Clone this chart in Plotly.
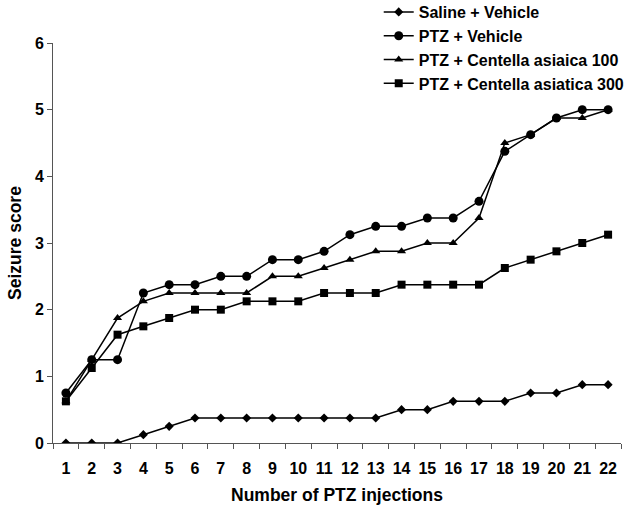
import plotly.graph_objects as go

injections = list(range(1, 23))
tick_labels = [str(i) for i in injections]

saline_vehicle = [0, 0, 0, 0.125, 0.25, 0.375, 0.375, 0.375, 0.375, 0.375, 0.375,
                  0.375, 0.375, 0.5, 0.5, 0.625, 0.625, 0.625, 0.75, 0.75, 0.875, 0.875]
ptz_vehicle = [0.75, 1.25, 1.25, 2.25, 2.375, 2.375, 2.5, 2.5, 2.75, 2.75, 2.875,
               3.125, 3.25, 3.25, 3.375, 3.375, 3.625, 4.375, 4.625, 4.875, 5, 5]
ptz_ca100 = [0.625, 1.25, 1.875, 2.125, 2.25, 2.25, 2.25, 2.25, 2.5, 2.5, 2.625,
             2.75, 2.875, 2.875, 3, 3, 3.375, 4.5, 4.625, 4.875, 4.875, 5]
ptz_ca300 = [0.625, 1.125, 1.625, 1.75, 1.875, 2, 2, 2.125, 2.125, 2.125, 2.25,
             2.25, 2.25, 2.375, 2.375, 2.375, 2.375, 2.625, 2.75, 2.875, 3, 3.125]

series = [
    ("Saline + Vehicle", saline_vehicle, "diamond", 7),
    ("PTZ + Vehicle", ptz_vehicle, "circle", 9),
    ("PTZ + Centella asiaica 100", ptz_ca100, "triangle-up", 8),
    ("PTZ + Centella asiatica 300", ptz_ca300, "square", 8),
]

fig = go.Figure()
for name, vals, sym, size in series:
    fig.add_trace(go.Scatter(
        x=injections, y=vals, name=name, mode="lines+markers",
        line=dict(color="black", width=1.5),
        marker=dict(symbol=sym, size=size, color="black"),
    ))

font_family = "Liberation Sans, Arial, sans-serif"
fig.update_layout(
    width=626, height=507,
    margin=dict(l=53, r=5, t=43, b=64, autoexpand=False),
    paper_bgcolor="white", plot_bgcolor="white",
    font=dict(family=font_family, color="black", size=15, weight="bold"),
    showlegend=True,
    legend=dict(
        xref="container", yref="paper", x=0.605, y=1.12,
        xanchor="left", yanchor="top",
        font=dict(size=16, weight="bold", family=font_family),
        bgcolor="rgba(255,255,255,0)", tracegroupgap=0, itemwidth=30,
    ),
    xaxis=dict(
        range=[0.5, 22.5], tickvals=injections, ticktext=tick_labels,
        ticks="", showgrid=False, zeroline=False, tickangle=0,
        showline=True, linecolor="#555", linewidth=1,
        tickfont=dict(size=16, weight="bold"), ticklabelstandoff=11,
        minor=dict(tick0=0.5, dtick=1, ticks="outside", ticklen=5, tickcolor="#555"),
        title=dict(text="Number of PTZ injections", font=dict(size=17.5, weight="bold"), standoff=12),
    ),
    yaxis=dict(
        range=[0, 6], tickvals=[0, 1, 2, 3, 4, 5, 6],
        ticks="outside", ticklen=5, tickcolor="#555",
        showgrid=False, zeroline=False,
        showline=True, linecolor="#555", linewidth=1,
        tickfont=dict(size=16, weight="bold"),
        title=dict(text="Seizure score", font=dict(size=17.5, weight="bold"), standoff=8),
    ),
)

fig.write_html("out.html", config={"displayModeBar": False},
               post_script="document.body.style.margin='0';")
